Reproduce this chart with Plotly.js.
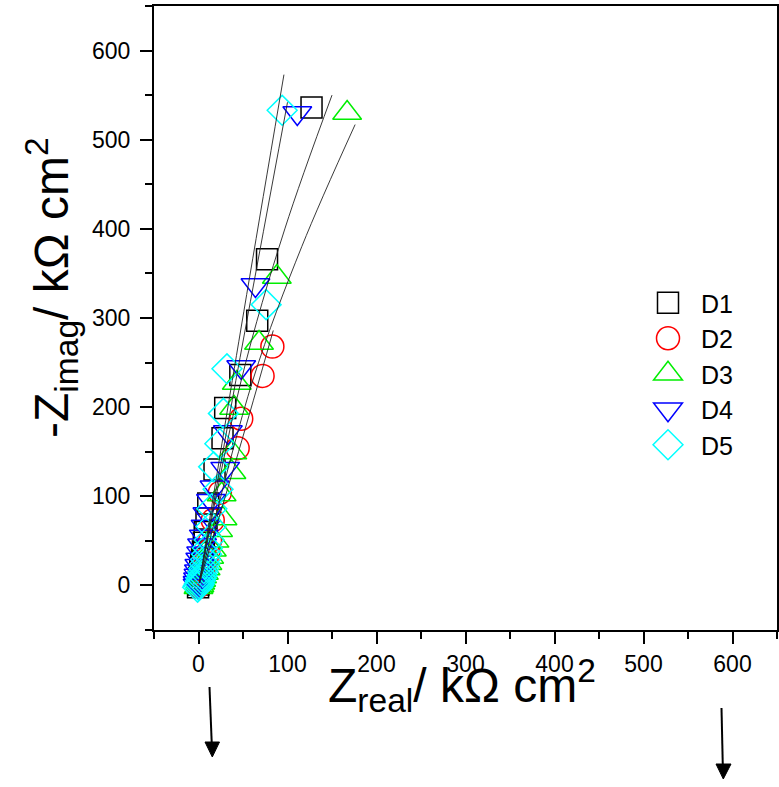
<!DOCTYPE html>
<html>
<head>
<meta charset="utf-8">
<script src="https://cdn.plot.ly/plotly-3.0.1.min.js"></script>
<style>
html,body{margin:0;padding:0;background:#fff;}
#chart{width:779px;height:787px;}
</style>
</head>
<body>
<div id="chart"></div>
<script>
// ---- data (kΩ cm²) ----
var seriesNames = ['D1', 'D2', 'D3', 'D4', 'D5'];

var d1x = [127, 77, 66, 47, 30, 27, 18, 11, 9, 7, 6, 5, 4, 3, 2, 1.5, 1, 0.5, 0, -0.5];
var d1y = [536, 366, 297, 236, 199, 165, 130, 92, 75, 60, 48, 38, 30, 23, 17, 12, 8, 4, 1, -2];

var d2x = [83, 72, 48, 44, 24, 16, 13, 11, 9, 7, 6, 5, 4, 3, 2, 1, 0];
var d2y = [268, 235, 187, 154, 104, 73, 50, 38, 30, 23, 17, 12, 8, 5, 2, 0, -1];

var d3x = [167, 88, 68, 43, 40, 38, 37, 26, 27, 22, 18, 15, 12, 10, 8, 6, 4, 3, 2, 1, 0];
var d3y = [530, 346, 272, 227, 199, 149, 127, 102, 75, 62, 50, 40, 32, 25, 19, 14, 10, 6, 3, 0, -2];

var d4x = [111, 64, 48, 33, 30, 18, 14, 10, 8, 6, 4, 3, 2, 1, 0.5, 0, -0.5, -1, -1];
var d4y = [530, 337, 245, 172, 131, 110, 95, 80, 66, 55, 45, 36, 29, 22, 16, 11, 7, 3, 0];

var d5x = [94, 76, 32, 28, 24, 17, 22, 15, 14, 12, 10, 9, 8, 7, 6, 5, 4, 3, 2, 1, 0, -1];
var d5y = [533, 315, 243, 193, 159, 133, 108, 86, 66, 51, 42, 35, 29, 24, 19, 15, 11, 8, 5, 2, 0, -2];

// fitted curves
var fit1x = [1, 48, 97, 150];   var fit1y = [3, 230, 400, 550];
var fit2x = [1, 45, 84];        var fit2y = [3, 150, 286];
var fit3x = [1, 61, 116, 176];  var fit3y = [3, 230, 380, 517];
var fit4x = [1, 42, 100];       var fit4y = [3, 230, 542];
var fit5x = [1, 38, 96];        var fit5y = [3, 230, 573];

var tickVals = [0, 100, 200, 300, 400, 500, 600];

// ---- styling ----
var colors = ['#000000', '#ff0000', '#00ee00', '#0000ff', '#00ffff'];
var symbols = ['square-open', 'circle-open', 'triangle-up-open', 'triangle-down-open', 'diamond-open'];
var sizes = [21, 23, 25, 25, 23];
var xs = [d1x, d2x, d3x, d4x, d5x];
var ys = [d1y, d2y, d3y, d4y, d5y];

var FONT = 'Liberation Sans, Arial, Helvetica, sans-serif';
var traces = [];
for (var i = 0; i < 5; i++) {
  traces.push({
    type: 'scatter', mode: 'markers', name: seriesNames[i],
    x: xs[i], y: ys[i], legendgroup: 'g' + i,
    marker: {symbol: symbols[i], size: sizes[i], color: colors[i], line: {width: 1.5, color: colors[i]}},
    cliponaxis: true
  });
}
var fits = [[fit1x, fit1y], [fit2x, fit2y], [fit3x, fit3y], [fit4x, fit4y], [fit5x, fit5y]];
fits.forEach(function (f) {
  traces.push({
    type: 'scatter', mode: 'lines', x: f[0], y: f[1], showlegend: false, hoverinfo: 'skip',
    line: {color: '#222', width: 0.9, shape: 'spline'}
  });
});

function pxX(px) { return (px - 154) / 623; }
function pxY(py) { return (630 - py) / 624; }

var axisCommon = {
  range: [-50, 650], tickvals: tickVals, ticks: 'outside', ticklen: 12, tickwidth: 2,
  tickcolor: '#000', showline: true, linewidth: 2, linecolor: '#000', mirror: true,
  showgrid: false, zeroline: false, tickfont: {family: FONT, size: 23, color: '#000'},
  minor: {dtick: 50, tick0: 0, ticks: 'outside', ticklen: 7, tickwidth: 2, tickcolor: '#000', showgrid: false}
};

var layout = {
  width: 779, height: 787,
  margin: {l: 154, r: 2, t: 6, b: 157},
  paper_bgcolor: '#fff', plot_bgcolor: '#fff',
  font: {family: FONT, color: '#000'},
  xaxis: Object.assign({}, axisCommon),
  yaxis: Object.assign({}, axisCommon, {ticklabelstandoff: 5}),
  showlegend: true,
  legend: {
    x: pxX(635), y: pxY(280), xanchor: 'left', yanchor: 'top',
    bgcolor: 'rgba(0,0,0,0)', borderwidth: 0, itemwidth: 56,
    font: {family: FONT, size: 25, color: '#000'}, tracegroupgap: 0
  },
  annotations: [
    {xref: 'paper', yref: 'paper', x: pxX(462), y: pxY(685), xanchor: 'center', yanchor: 'middle',
     showarrow: false, text: 'Z<sub>real</sub>/ kΩ cm<sup>2</sup>', font: {family: FONT, size: 48, color: '#000'}},
    {xref: 'paper', yref: 'paper', x: pxX(52), y: pxY(288), xanchor: 'center', yanchor: 'middle',
     showarrow: false, textangle: -90, text: '-Z<sub>imag</sub>/ kΩ cm<sup>2</sup>', font: {family: FONT, size: 48, color: '#000'}}
  ],
  shapes: [
    {type: 'line', xref: 'paper', yref: 'paper', x0: pxX(209.5), y0: pxY(687), x1: pxX(211.8), y1: pxY(745), line: {color: '#000', width: 2}},
    {type: 'path', xref: 'paper', yref: 'paper', fillcolor: '#000', line: {color: '#000', width: 1},
     path: 'M' + pxX(205) + ',' + pxY(742) + ' L' + pxX(219.5) + ',' + pxY(742) + ' L' + pxX(212.3) + ',' + pxY(757) + ' Z'},
    {type: 'line', xref: 'paper', yref: 'paper', x0: pxX(721.5), y0: pxY(708), x1: pxX(722.8), y1: pxY(766), line: {color: '#000', width: 2}},
    {type: 'path', xref: 'paper', yref: 'paper', fillcolor: '#000', line: {color: '#000', width: 1},
     path: 'M' + pxX(716) + ',' + pxY(764) + ' L' + pxX(731) + ',' + pxY(764) + ' L' + pxX(723.3) + ',' + pxY(779) + ' Z'}
  ]
};

Plotly.newPlot('chart', traces, layout, {staticPlot: true, displayModeBar: false}).then(function () {
  // enlarge legend symbols to match the plotted marker sizes
  var items = document.querySelectorAll('.legend .traces');
  items.forEach(function (item, idx) {
    var p = item.querySelector('path.scatterpts');
    if (!p) return;
    var k = sizes[idx] / 16;
    var t = p.getAttribute('transform') || '';
    p.setAttribute('transform', t + ' scale(' + k + ')');
    p.style.vectorEffect = 'non-scaling-stroke';
  });
});
</script>
</body>
</html>
